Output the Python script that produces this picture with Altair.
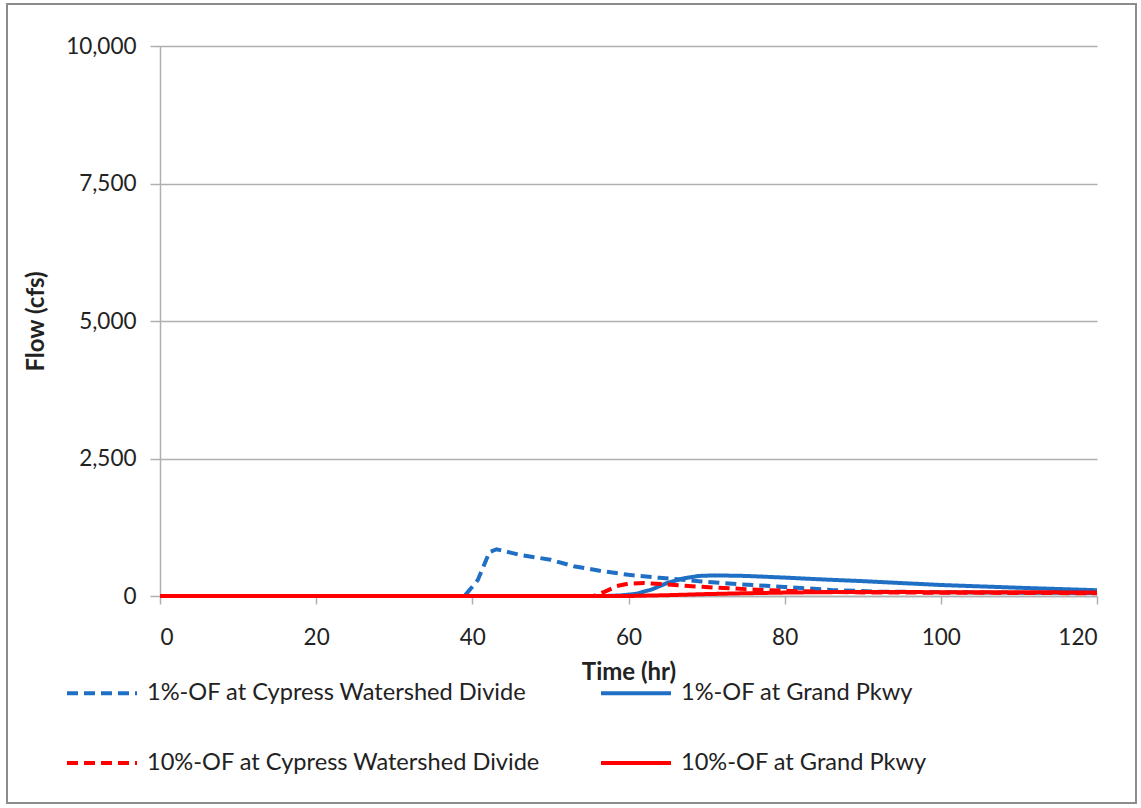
import altair as alt
import pandas as pd

series_names = [
    "1%-OF at Cypress Watershed Divide",
    "1%-OF at Grand Pkwy",
    "10%-OF at Cypress Watershed Divide",
    "10%-OF at Grand Pkwy",
]
# legend (column-major) order
legend_order = [series_names[0], series_names[2], series_names[1], series_names[3]]
legend_colors = ["#1F6FC5", "#FF0000", "#1F6FC5", "#FF0000"]
legend_dashes = [[11, 6], [11, 6], [1, 0], [1, 0]]

# 1%-OF at Cypress Watershed Divide
t_1_cyp = [0, 39, 40.7, 42.2, 43.1, 46, 50, 53, 56.3, 60, 64, 69, 74, 80, 86, 92, 100, 110, 120]
q_1_cyp = [0, 0, 290, 800, 850, 750, 660, 540, 460, 385, 330, 270, 215, 165, 110, 80, 70, 60, 55]

# 1%-OF at Grand Pkwy
t_1_gp = [0, 57, 59, 61, 63, 65, 67, 69, 71, 75, 80, 85, 90, 100, 110, 120]
q_1_gp = [0, 0, 10, 40, 120, 240, 320, 365, 375, 365, 335, 300, 270, 200, 150, 105]

# 10%-OF at Cypress Watershed Divide
t_10_cyp = [0, 55.5, 57, 58.5, 60, 62, 65, 69, 75, 80, 85, 90, 100, 110, 120]
q_10_cyp = [0, 0, 80, 180, 225, 235, 210, 170, 125, 95, 75, 65, 60, 55, 50]

# 10%-OF at Grand Pkwy
t_10_gp = [0, 60, 65, 70, 75, 80, 85, 90, 100, 110, 120]
q_10_gp = [0, 0, 15, 35, 50, 62, 70, 72, 70, 67, 65]

x_ticks = [0, 20, 40, 60, 80, 100, 120]
y_ticks = [0, 2500, 5000, 7500, 10000]

all_t = [t_1_cyp, t_1_gp, t_10_cyp, t_10_gp]
all_q = [q_1_cyp, q_1_gp, q_10_cyp, q_10_gp]

rows = []
for name, ts, qs in zip(series_names, all_t, all_q):
    for t, q in zip(ts, qs):
        rows.append({"t": t, "flow": q, "series": name})
df = pd.DataFrame(rows)

FONT = "Lato"
TXT = "#222222"

legend = alt.Legend(
    title=None,
    orient="none",
    legendX=-95,
    legendY=610,
    columns=2,
    columnPadding=52,
    rowPadding=21,
    symbolType="stroke",
    symbolSize=4900,
    symbolStrokeWidth=4,
    labelFont=FONT,
    labelFontSize=23.6,
    labelColor=TXT,
    labelOffset=8,
    labelLimit=600,
    padding=0,
)

lines = alt.Chart(df).mark_line(strokeWidth=4).encode(
    x=alt.X(
        "t:Q",
        scale=alt.Scale(domain=[0, 120], nice=False),
        axis=alt.Axis(
            values=x_ticks,
            title="Time (hr)",
            grid=False,
            tickSize=8,
            labelPadding=22,
            titlePadding=12,
        ),
    ),
    y=alt.Y(
        "flow:Q",
        scale=alt.Scale(domain=[0, 10000], nice=False),
        axis=alt.Axis(
            values=y_ticks,
            format=",.0f",
            title="Flow (cfs)",
            grid=True,
            tickSize=10,
            labelPadding=14,
            titlePadding=17,
        ),
    ),
    color=alt.Color(
        "series:N",
        scale=alt.Scale(domain=legend_order, range=legend_colors),
        legend=legend,
    ),
    strokeDash=alt.StrokeDash(
        "series:N",
        scale=alt.Scale(domain=legend_order, range=legend_dashes),
        legend=legend,
    ),
)

border = alt.Chart(pd.DataFrame({"k": [0]})).mark_rect(
    fill="transparent", stroke="#8c8c8c", strokeWidth=2
).encode(
    x=alt.value(-153), x2=alt.value(976), y=alt.value(-42), y2=alt.value(757)
)

chart = (
    alt.layer(border, lines)
    .properties(
        width=937,
        height=550,
        autosize=alt.AutoSizeParams(type="none"),
        padding={"left": 160, "top": 46, "right": 44, "bottom": 212},
        background="white",
    )
    .configure_view(stroke=None)
    .configure_axis(
        labelFont=FONT,
        labelFontSize=22.5,
        labelColor=TXT,
        titleFont=FONT,
        titleFontSize=24,
        titleFontWeight="bold",
        titleColor=TXT,
        gridColor="#B0B0B0",
        domainColor="#B0B0B0",
        tickColor="#B0B0B0",
        gridWidth=1.5,
        domainWidth=1.5,
        tickWidth=1.5,
    )
)

chart.save("out.html", embed_options={"renderer": "svg", "actions": False})
